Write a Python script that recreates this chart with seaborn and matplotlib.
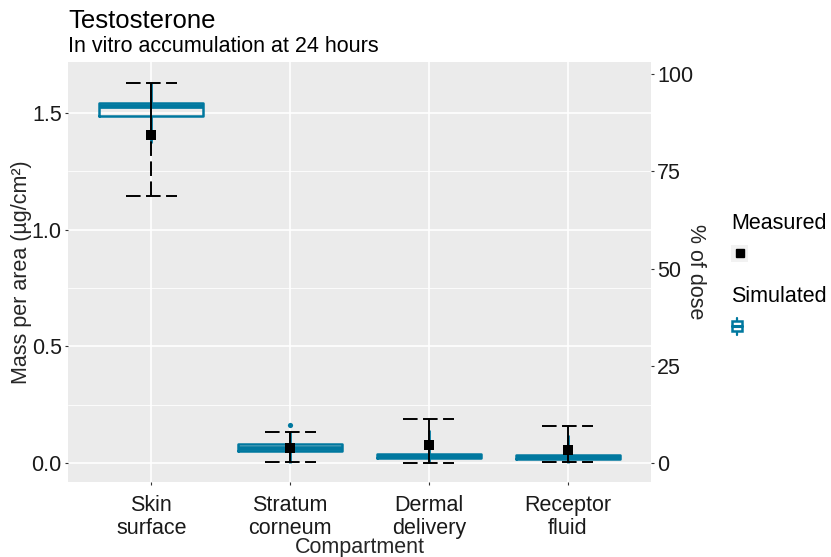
import numpy as np
import pandas as pd
import matplotlib
matplotlib.use("Agg")
import matplotlib.pyplot as plt
import seaborn as sns
from matplotlib.legend_handler import HandlerBase
from matplotlib.patches import Rectangle
from matplotlib.lines import Line2D

compartments = ["Skin\nsurface", "Stratum\ncorneum", "Dermal\ndelivery", "Receptor\nfluid"]

# Simulated mass per area (µg/cm²): five-number summary per compartment
sim_min = [1.370, 0.000, 0.000, 0.000]
sim_q1 = [1.488, 0.053, 0.023, 0.018]
sim_median = [1.530, 0.066, 0.030, 0.027]
sim_q3 = [1.545, 0.080, 0.037, 0.036]
sim_max = [1.630, 0.135, 0.140, 0.120]
sim_outlier_comp = ["Stratum\ncorneum"]
sim_outlier_val = [0.163]

# Measured mass per area (µg/cm²): mean with lower / upper bounds
meas_mean = [1.406, 0.064, 0.077, 0.056]
meas_low = [1.146, 0.004, 0.000, 0.003]
meas_high = [1.627, 0.133, 0.189, 0.160]

# applied dose (µg/cm²) that corresponds to 100 % on the right axis
applied_dose = 1.6667
dose_ticks = [0, 25, 50, 75, 100]

TEAL = "#00789F"
PANEL = "#EBEBEB"
FS = 15.5

sns.set_theme(style="darkgrid")
plt.rcParams["font.family"] = ["Liberation Sans", "DejaVu Sans"]
plt.rcParams["text.color"] = "black"

sim_df = pd.DataFrame({
    "Compartment": np.repeat(compartments, 5),
    "Mass": np.column_stack([sim_min, sim_q1, sim_median, sim_q3, sim_max]).ravel(),
})

fig = plt.figure(figsize=(8.31, 5.57), dpi=100)
ax = fig.add_axes([68 / 831, 75 / 557, 583 / 831, 420 / 557])
ax.set_facecolor(PANEL)

pos = np.arange(len(compartments))

# simulated distribution
sns.boxplot(
    data=sim_df, x="Compartment", y="Mass", order=compartments,
    width=0.75, whis=(0, 100), fill=False, color=TEAL, linecolor=TEAL,
    linewidth=1.8, showcaps=False,
    medianprops={"linewidth": 3.4, "color": TEAL},
    whiskerprops={"linewidth": 2.0, "color": TEAL},
    ax=ax, zorder=3,
)
for patch in ax.patches:
    patch.set_facecolor("white")

out_x = [compartments.index(c) for c in sim_outlier_comp]
sns.scatterplot(x=out_x, y=sim_outlier_val, color=TEAL, s=14, linewidth=0,
                ax=ax, zorder=3, legend=False)

# measured values with dashed range bars
cap = 0.1835
dash = (0, (7.5, 2.8))
lw = 1.4
ax.vlines(pos, meas_mean, meas_high, color="black", linewidth=lw, zorder=4)
ax.vlines(pos, meas_low, meas_mean, color="black", linewidth=lw,
          linestyles=[dash], zorder=4)
ax.hlines(meas_high, pos - cap, pos + cap, color="black", linewidth=lw,
          linestyles=[dash], zorder=4)
ax.hlines(meas_low, pos - cap, pos + cap, color="black", linewidth=lw,
          linestyles=[dash], zorder=4)
sns.scatterplot(x=pos, y=meas_mean, marker="s", color="black", s=62,
                linewidth=0, ax=ax, zorder=5, legend=False)

# axes, grid and ticks
ax.set_xlim(-0.6, 3.6)
ax.set_ylim(-0.0815, 1.719)
ax.set_yticks([0.0, 0.5, 1.0, 1.5])
ax.set_yticklabels(["0.0", "0.5", "1.0", "1.5"])
ax.set_yticks([0.25, 0.75, 1.25], minor=True)
ax.set_xticks(pos)
ax.set_xticklabels(compartments, linespacing=1.1)
ax.grid(which="major", color="white", linewidth=1.2)
ax.grid(which="minor", axis="y", color="white", linewidth=0.6)
ax.set_axisbelow(True)
for s in ax.spines.values():
    s.set_visible(False)
ax.tick_params(axis="both", which="major", length=2.5, width=0.8,
               color="#333333", labelsize=FS, labelcolor="#1A1A1A", pad=2,
               left=True, bottom=True)
ax.tick_params(axis="x", which="major", pad=7)
ax.tick_params(axis="y", which="minor", length=0, left=False)
ax.set_xlabel("Compartment", fontsize=FS, labelpad=-1)
ax.set_ylabel("Mass per area (µg/cm²)", fontsize=FS, labelpad=-0.5)

sec = ax.secondary_yaxis(
    "right",
    functions=(lambda m: m / applied_dose * 100, lambda p: p * applied_dose / 100),
)
sec.set_yticks(dose_ticks)
sec.set_yticklabels([str(t) for t in dose_ticks])
sec.tick_params(axis="y", length=2.5, width=0.8, color="#333333",
                labelsize=FS, labelcolor="#1A1A1A", pad=2, right=True)
for s in sec.spines.values():
    s.set_visible(False)
sec.set_ylabel("% of dose", rotation=270, fontsize=FS, labelpad=9)

# titles
fig.text(68 / 831, 1 - 28 / 557, "Testosterone", fontsize=18.5, va="baseline", ha="left")
fig.text(68 / 831, 1 - 52 / 557, "In vitro accumulation at 24 hours", fontsize=FS,
         va="baseline", ha="left")


# legend keys
class MeasuredKey(HandlerBase):
    def create_artists(self, legend, orig_handle, xdescent, ydescent,
                       width, height, fontsize, trans):
        bg = Rectangle((-xdescent, -ydescent), width, height,
                       facecolor="#F2F2F2", edgecolor="none", transform=trans)
        mk = Line2D([-xdescent + width / 2], [-ydescent + height / 2],
                    marker="s", markersize=6, color="black", linestyle="none",
                    transform=trans)
        return [bg, mk]


class SimulatedKey(HandlerBase):
    def create_artists(self, legend, orig_handle, xdescent, ydescent,
                       width, height, fontsize, trans):
        cx = -xdescent + width / 2 - 2
        y0 = -ydescent
        bw = width * 0.55
        wl = Line2D([cx, cx], [y0, y0 + height], color=TEAL, linewidth=1.6,
                    transform=trans)
        box = Rectangle((cx - bw / 2, y0 + height * 0.2), bw, height * 0.6,
                        facecolor="white", edgecolor=TEAL, linewidth=1.8,
                        transform=trans)
        med = Line2D([cx - bw / 2, cx + bw / 2], [y0 + height / 2] * 2,
                     color=TEAL, linewidth=2.2, transform=trans)
        return [wl, box, med]


h_meas = Line2D([], [])
h_sim = Line2D([], [])
leg_kw = dict(loc="upper left", frameon=False, fontsize=FS, title_fontsize=FS,
              handlelength=0.8, handleheight=0.8, borderpad=0,
              borderaxespad=0, handletextpad=0, alignment="left")
fig.legend(handles=[h_meas], labels=[""], title="Measured",
           handler_map={h_meas: MeasuredKey()},
           bbox_to_anchor=(731 / 831, 1 - 213 / 557), **leg_kw)
fig.legend(handles=[h_sim], labels=[""], title="Simulated",
           handler_map={h_sim: SimulatedKey()},
           bbox_to_anchor=(731 / 831, 1 - 286 / 557), **leg_kw)

fig.savefig("out.png", dpi=100)
